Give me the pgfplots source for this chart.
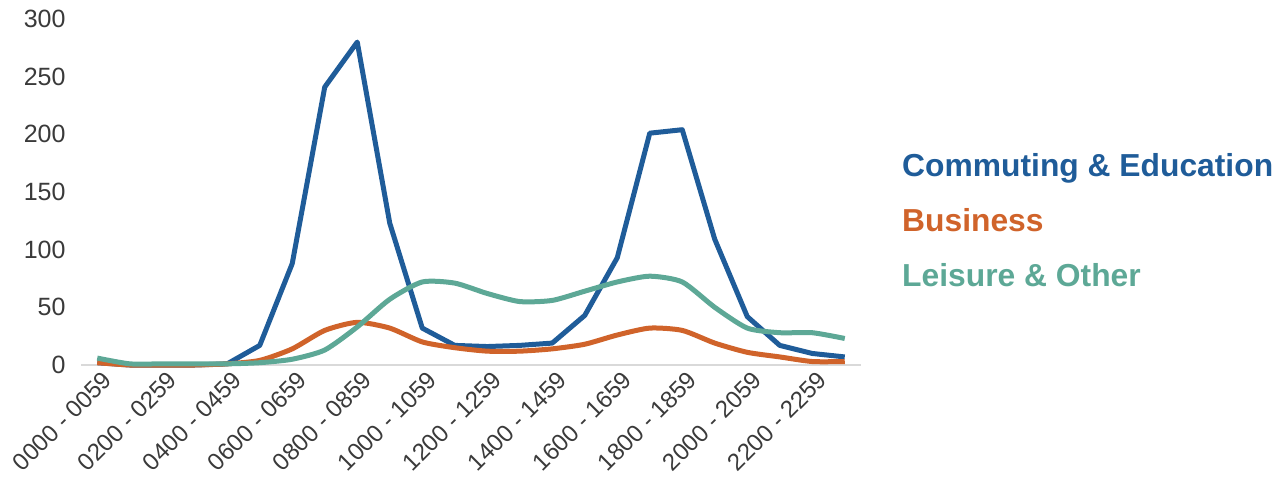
\documentclass[border=0pt]{standalone}
\usepackage{fontspec}
\setmainfont{Liberation Sans}
\usepackage{pgfplots}
\pgfplotsset{compat=1.18}

\definecolor{commute}{HTML}{1F5C99}
\definecolor{business}{HTML}{D0632A}
\definecolor{leisure}{HTML}{5DA896}
\definecolor{ticktext}{HTML}{3A3A3A}
\definecolor{baseaxis}{HTML}{D9D9D9}

\begin{document}
\begin{tikzpicture}
\path[use as bounding box] (0,0) rectangle (1283bp,484bp);
\begin{axis}[
  at={(81bp,119bp)}, anchor=south west,
  scale only axis, width=780bp, height=346bp,
  xmin=-0.5, xmax=23.5, ymin=0, ymax=300,
  axis lines*=left,
  y axis line style={draw=none},
  x axis line style={draw=baseaxis, line width=1.5bp},
  major tick length=0pt,
  ytick={0,50,...,300},
  yticklabel style={font=\fontsize{25bp}{30bp}\selectfont, text=ticktext, xshift=-12bp},
  xtick={0,2,...,22},
  xticklabels={0000 - 0059,0200 - 0259,0400 - 0459,0600 - 0659,0800 - 0859,1000 - 1059,
               1200 - 1259,1400 - 1459,1600 - 1659,1800 - 1859,2000 - 2059,2200 - 2259},
  xticklabel style={rotate=45, anchor=north east, font=\fontsize{24bp}{28bp}\selectfont,
                    text=ticktext, xshift=3bp, yshift=-3bp},
  /pgf/number format/assume math mode=true,
  clip=false,
]
% Commuting & Education
\addplot[commute, line width=5bp, line join=round] coordinates {
  (0,2) (1,0) (2,0) (3,0) (4,1) (5,17) (6,88) (7,241) (8,280) (9,123)
  (10,32) (11,17) (12,16) (13,17) (14,19) (15,43) (16,93) (17,201) (18,204)
  (19,109) (20,42) (21,17) (22,10) (23,7)
};
% Business
\addplot[business, line width=5bp, smooth, tension=0.4, line join=round] coordinates {
  (0,2) (1,0) (2,0) (3,0) (4,1) (5,4) (6,14) (7,30) (8,37) (9,32)
  (10,20) (11,15) (12,12) (13,12) (14,14) (15,18) (16,26) (17,32) (18,30)
  (19,19) (20,11) (21,7) (22,3) (23,3)
};
% Leisure & Other
\addplot[leisure, line width=5bp, smooth, tension=0.4, line join=round] coordinates {
  (0,6) (1,1) (2,1) (3,1) (4,1) (5,2) (6,5) (7,13) (8,33) (9,57)
  (10,72) (11,71) (12,62) (13,55) (14,56) (15,64) (16,72) (17,77) (18,72)
  (19,50) (20,32) (21,28) (22,28) (23,23)
};
\end{axis}
\node[anchor=base west, inner sep=0pt, font=\fontsize{31.8bp}{38bp}\selectfont\bfseries, text=commute] at (902bp,307bp) {Commuting \& Education};
\node[anchor=base west, inner sep=0pt, font=\fontsize{31.8bp}{38bp}\selectfont\bfseries, text=business] at (902bp,252bp) {Business};
\node[anchor=base west, inner sep=0pt, font=\fontsize{31.8bp}{38bp}\selectfont\bfseries, text=leisure] at (902bp,197bp) {Leisure \& Other};
\end{tikzpicture}
\end{document}
